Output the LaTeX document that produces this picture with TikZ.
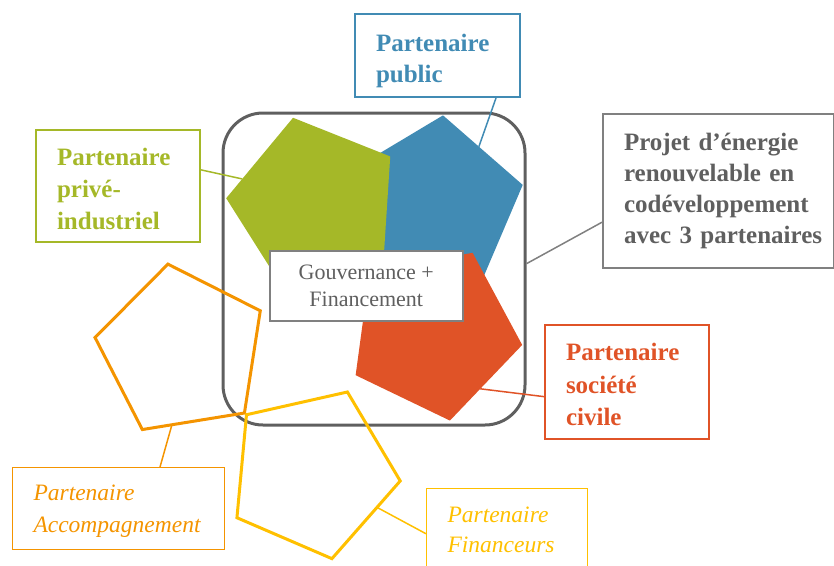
\documentclass[tikz,border=0pt]{standalone}
\usepackage{fontspec}
\setmainfont{Liberation Serif}
\usetikzlibrary{calc}
\definecolor{cGreen}{RGB}{165,184,40}
\definecolor{cBlue}{RGB}{65,139,180}
\definecolor{cRed}{RGB}{224,83,39}
\definecolor{cGray}{RGB}{95,95,95}
\definecolor{cLine}{RGB}{128,128,128}
\definecolor{cOrange}{RGB}{244,148,0}
\definecolor{cYellow}{RGB}{255,192,0}
\begin{document}
\begin{tikzpicture}[x=1pt,y=-1pt,
  tbox/.style={draw, anchor=north west, align=left, inner xsep=21pt, inner ysep=0pt},
  boldbox/.style={tbox, line width=2pt, font=\fontsize{25}{31}\selectfont\bfseries},
  itbox/.style={tbox, line width=1pt, font=\fontsize{23.5}{32}\selectfont\itshape},
  conn/.style={line width=1.5pt},
  outline/.style={line width=3pt, line join=miter}]
\useasboundingbox (0,0) rectangle (834,565);
\clip (0,0) rectangle (834,565);

% central frame
\node[draw=cGray, line width=3pt, rounded corners=40pt, minimum width=302pt, minimum height=312pt, inner sep=0pt] (frame) at (374,269) {};

% pentagon vertices
\coordinate (bc) at (435,205);
\coordinate (gc) at (315,204);
\coordinate (rc) at (434,333);
\coordinate (oc) at (182,351);
\coordinate (yc) at (312.6,472.8);
\foreach \i in {1,...,5} {
  \coordinate (b\i) at ($(bc)+({84.9+72*(\i-1)}:90pt)$);
  \coordinate (g\i) at ($(gc)+({104.3+72*(\i-1)}:89pt)$);
  \coordinate (r\i) at ($(rc)+({64.3+72*(\i-1)}:89pt)$);
  \coordinate (o\i) at ($(oc)+({99.2+72*(\i-1)}:88pt)$);
  \coordinate (y\i) at ($(yc)+({66.7+72*(\i-1)}:88pt)$);
}

\fill[cBlue] (b1) -- (b2) -- (b3) -- (b4) -- (b5) -- cycle;
\fill[cGreen] (g1) -- (g2) -- (g3) -- (g4) -- (g5) -- cycle;
\fill[cRed] (r1) -- (r2) -- (r3) -- (r4) -- (r5) -- cycle;

% center box
\node[draw=cLine, line width=1.5pt, fill=white, anchor=north west, align=center, inner sep=0pt,
  minimum width=193pt, minimum height=70pt, text=cGray, font=\fontsize{22}{27}\selectfont]
  (gov) at (269,250) {Gouvernance +\\Financement};

% outline pentagons
\draw[outline, cOrange] (o1) -- (o2) -- (o3) -- (o4) -- (o5) -- cycle;
\draw[outline, cYellow] (y1) -- (y2) -- (y3) -- (y4) -- (y5) -- cycle;

% label boxes
\node[boldbox, draw=cBlue, text=cBlue, text width=123pt, minimum width=165pt, minimum height=83pt]
  (pub) at (354,13) {\rule{0pt}{27.4pt}Partenaire\\public};
\node[boldbox, draw=cGreen, text=cGreen, text width=122pt, minimum width=164pt, minimum height=112pt,
  font=\fontsize{25}{32}\selectfont\bfseries]
  (priv) at (35,129) {\rule{0pt}{24pt}Partenaire\\privé-\\industriel};
\node[boldbox, draw=cRed, text=cRed, text width=122pt, minimum width=164pt, minimum height=114pt,
  font=\fontsize{25}{32.5}\selectfont\bfseries]
  (civ) at (544,324) {\rule{0pt}{23pt}Partenaire\\société\\civile};
\node[boldbox, draw=cLine, text=cGray, text width=189pt, minimum width=231pt, minimum height=154pt]
  (proj) at (602,113) {\mbox{Projet d’énergie}\\\mbox{renouvelable en}\\\mbox{codéveloppement}\\\mbox{avec 3 partenaires}};
\node[itbox, draw=cOrange, text=cOrange, text width=170pt, minimum width=212pt, minimum height=82pt]
  (acc) at (12,467) {\rule{0pt}{21pt}Partenaire\\Accompagnement};
\node[itbox, draw=cYellow, text=cYellow, text width=119pt, minimum width=161pt, minimum height=82pt,
  font=\fontsize{23.5}{30}\selectfont\itshape]
  (fin) at (426,488) {Partenaire\\Financeurs};

% connectors
\draw[conn, cBlue] (pub.-36.8) -- ($(b1)!0.45!(b5)$);
\draw[conn, cGreen] (priv.11) -- ($(g1)!0.76!(g2)$);
\draw[conn, cRed] (civ.190.9) -- ($(r5)!0.58!(r4)$);
\draw[conn, cLine] (proj.195.5) -- (frame.2.65);
\draw[conn, cOrange] (acc.45.7) -- ($(o3)!0.29!(o4)$);
\draw[conn, cYellow] (fin.183.8) -- ($(y5)!0.34!(y4)$);
\end{tikzpicture}
\end{document}
